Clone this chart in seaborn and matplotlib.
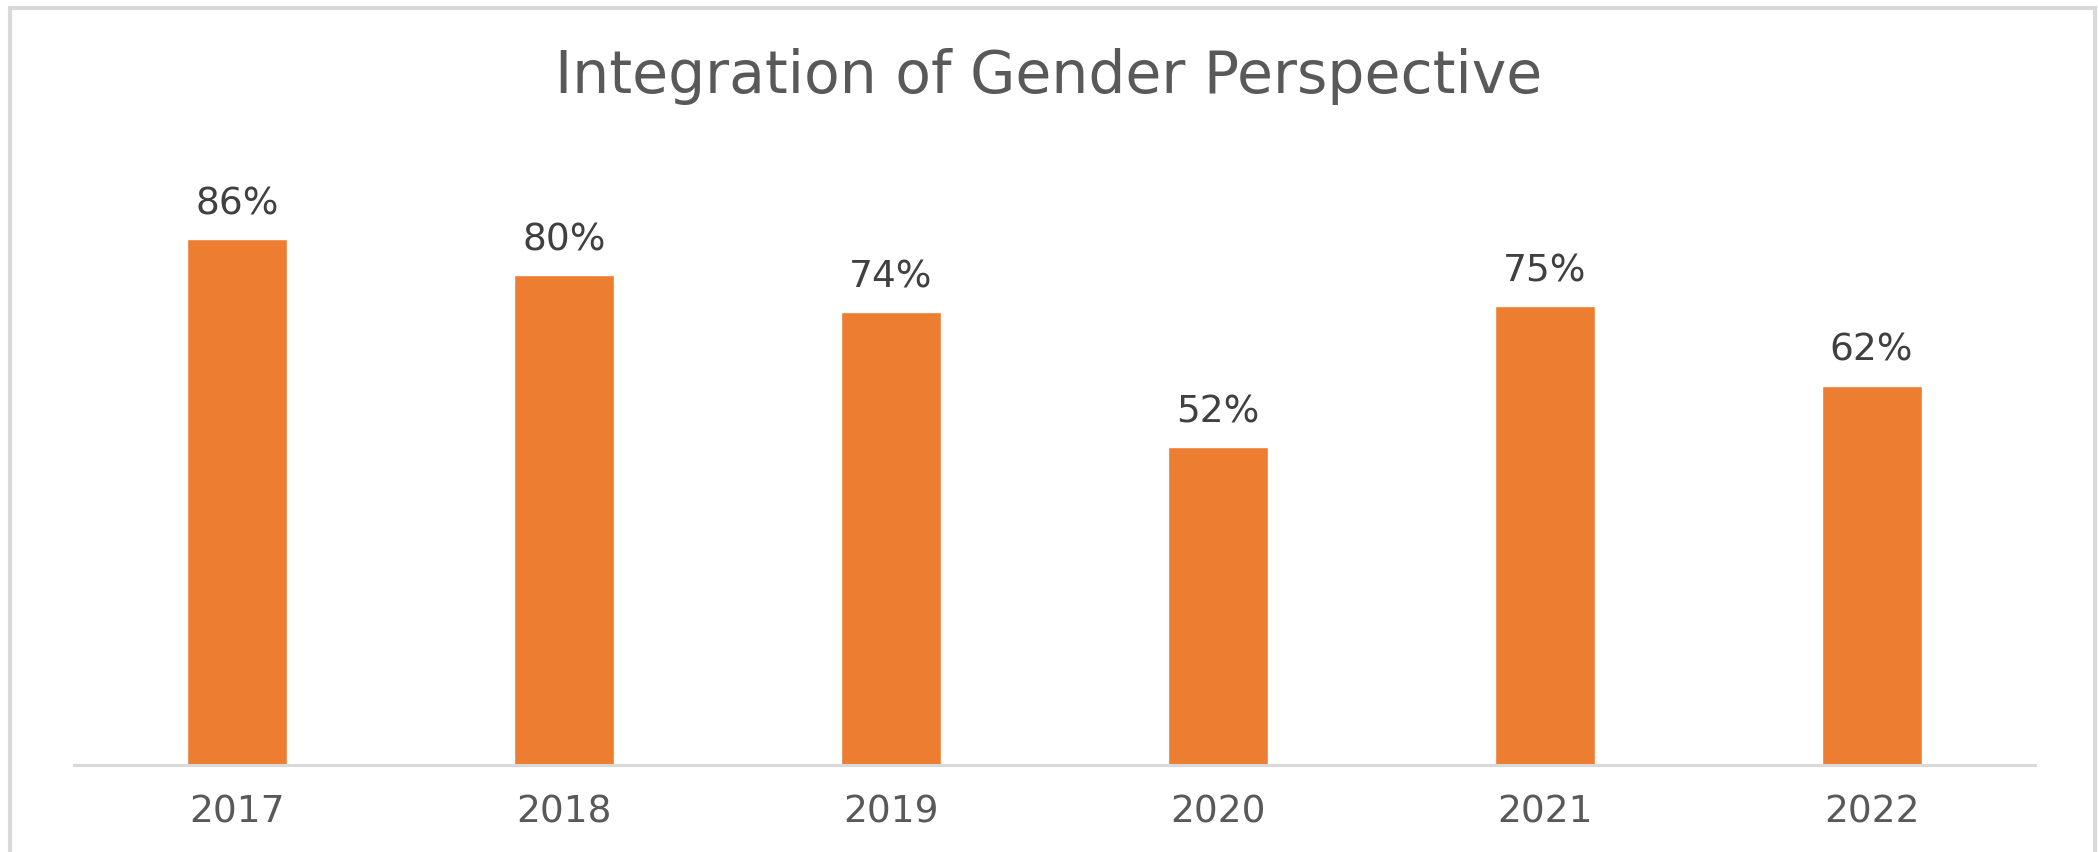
import numpy as np
import pandas as pd
import seaborn as sns
import matplotlib.pyplot as plt
from matplotlib.patches import Rectangle

years = ['2017', '2018', '2019', '2020', '2021', '2022']
values = [86, 80, 74, 52, 75, 62]
title = 'Integration of Gender Perspective'

W, H = 2098, 852


def main():
    sns.set_style('white')
    plt.rcParams['font.family'] = ['DejaVu Sans']

    df = pd.DataFrame({'year': years, 'value': values})

    fig = plt.figure(figsize=(W / 100, H / 100), dpi=100)
    ax = fig.add_axes([74 / W, 87 / H, (2035 - 74) / W, (765 - 153) / H])

    sns.barplot(data=df, x='year', y='value', color='#ED7D31', saturation=1,
                width=0.306, ax=ax)

    ax.set_ylim(0, 100)
    ax.set_xlim(-0.5, len(years) - 0.5)
    ax.set_xlabel('')
    ax.set_ylabel('')
    ax.set_yticks([])
    for s in ['left', 'right', 'top']:
        ax.spines[s].set_visible(False)
    ax.spines['bottom'].set_color('#d9d9d9')
    ax.spines['bottom'].set_linewidth(2.2)
    ax.tick_params(axis='x', length=0, pad=21, labelsize=27, labelcolor='#595959')

    ax.bar_label(ax.containers[0], labels=[f'{v}%' for v in values],
                 padding=12, fontsize=27, color='#404040')

    fig.text(0.5, 1 - 93 / H, title, ha='center', va='baseline',
             fontsize=42, color='#595959')

    # chart frame
    fig.patches.append(Rectangle((10 / W, -0.1), (2095 - 10) / W, 1.1 - 8 / H,
                                 transform=fig.transFigure, fill=False,
                                 edgecolor='#d9d9d9', linewidth=3))

    fig.savefig('out.png', dpi=100)
    plt.close(fig)


if __name__ == '__main__':
    main()
